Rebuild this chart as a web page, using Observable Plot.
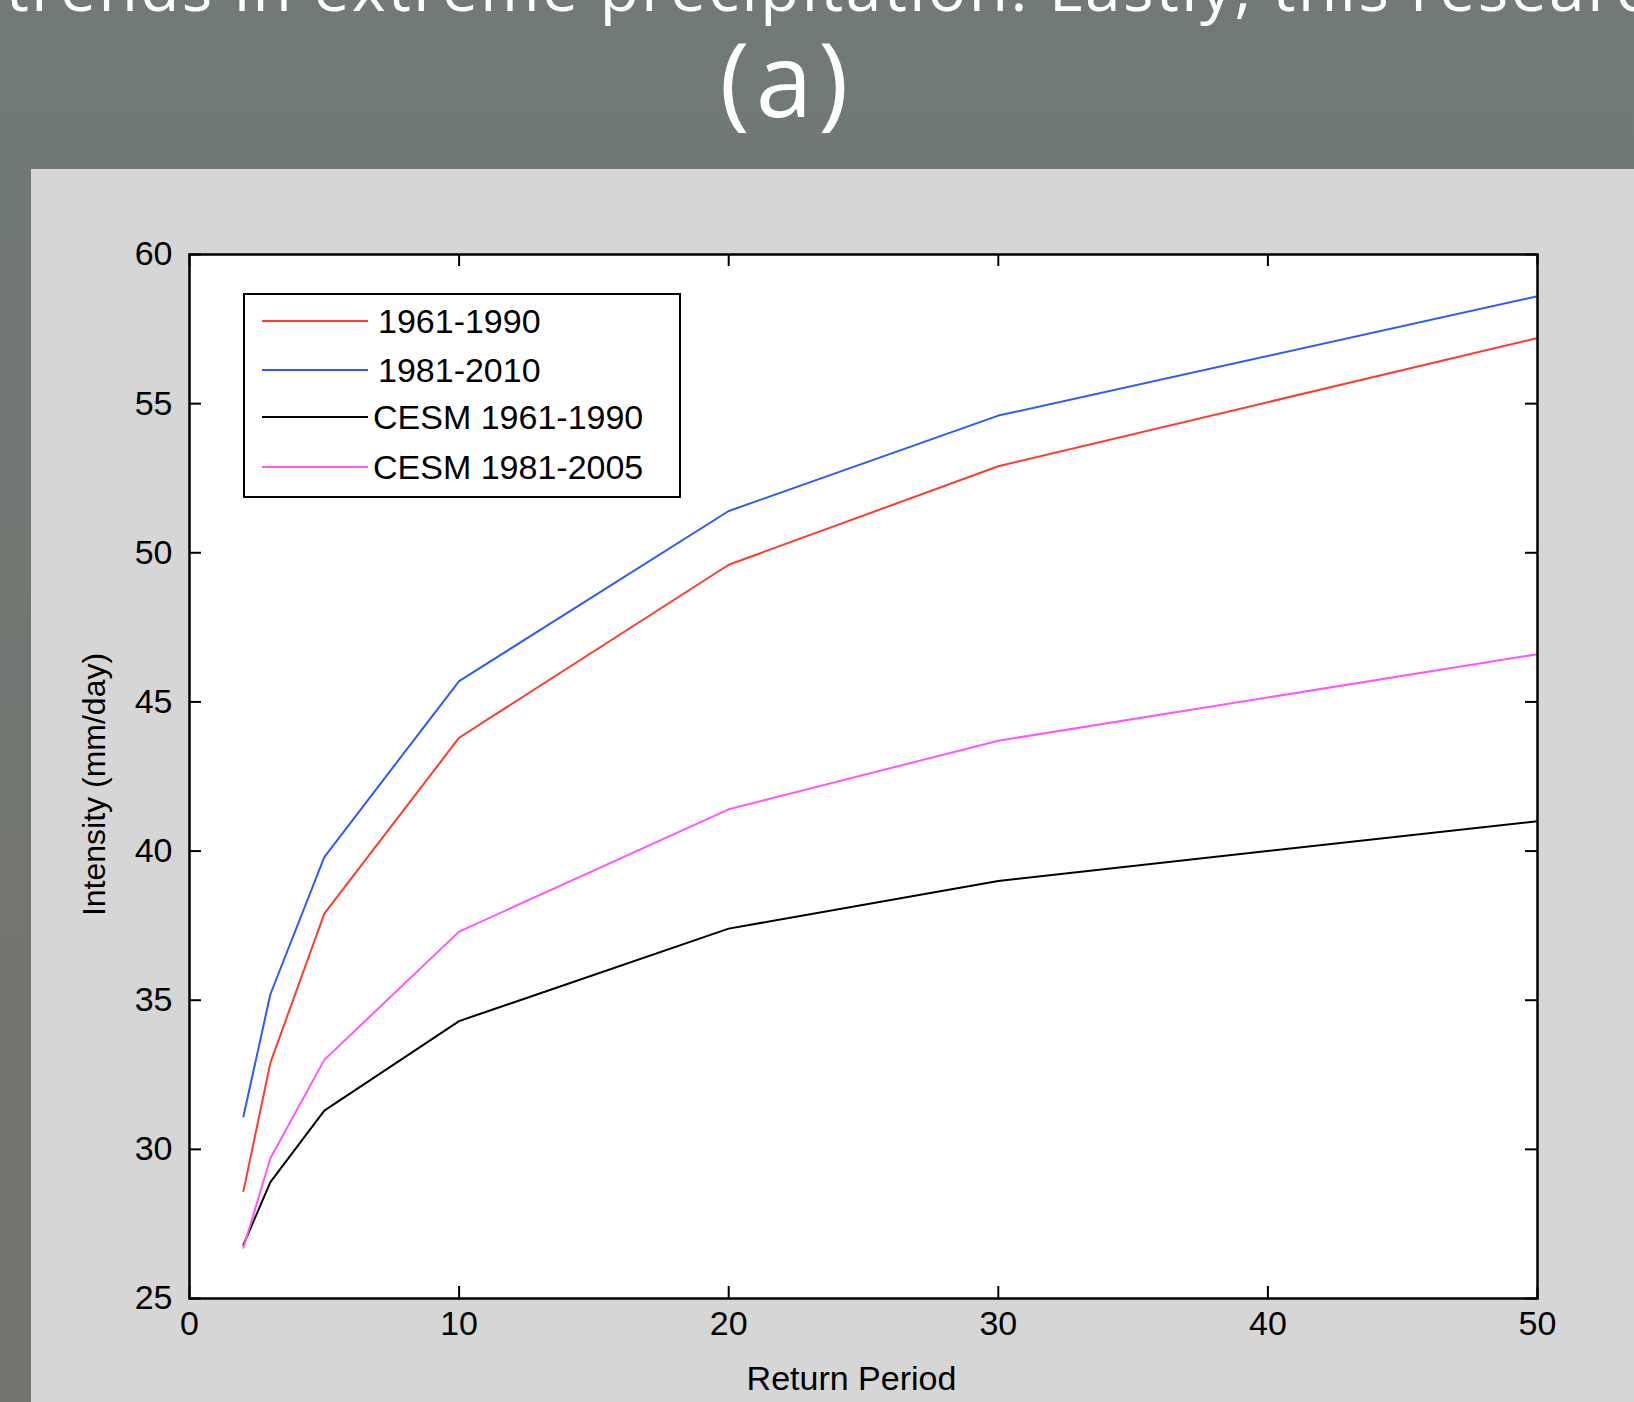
<!DOCTYPE html>
<html>
<head>
<meta charset="utf-8">
<script src="https://cdn.jsdelivr.net/npm/d3@7"></script>
<script src="https://cdn.jsdelivr.net/npm/@observablehq/plot@0.6"></script>
<style>
  html, body { margin: 0; padding: 0; }
  body { width: 1634px; height: 1402px; overflow: hidden; position: relative;
         background: linear-gradient(#717a76, #74736e); font-family: "Liberation Sans", Arial, sans-serif; }
  #topclip { position: absolute; left: 0; top: 0; width: 1634px; height: 26px; overflow: hidden; }
  #topline { position: absolute; left: 6px; top: -45px; white-space: nowrap; font-family: "Open Sans", sans-serif;
             font-size: 64px; line-height: 1; color: #fff; letter-spacing: 2.5px; }
  #title { position: absolute; left: 0; width: 1574px; top: 27px; text-align: center; font-family: "Open Sans", sans-serif;
           font-size: 102px; line-height: 1; color: #fff; letter-spacing: 6px; }
  #panel { position: absolute; left: 31px; top: 169px; width: 1603px; height: 1233px; background: #d6d6d6; }
  #chart { position: absolute; left: 31px; top: 169px; }
  #legend { position: absolute; left: 243px; top: 293px; width: 434px; height: 201px; background: #fff;
            border: 2px solid #000; }
  .row { position: absolute; left: 0; width: 434px; height: 34px; }
  .row svg { position: absolute; left: 17px; top: 0; }
  .row span { position: absolute; left: 130px; top: 0; font-size: 34px; line-height: 34px; color: #000; white-space: nowrap; }
</style>
</head>
<body>
<div id="topclip"><div id="topline">trends in extreme precipitation. Lastly, this research</div></div>
<div id="title">(a)</div>
<div id="panel"></div>
<div id="chart"></div>
<div id="legend"></div>
<script>
// ---- data ----
const returnPeriod = [2, 3, 5, 10, 20, 30, 50];
const obs19611990  = [28.6, 32.9, 37.9, 43.8, 49.6, 52.9, 57.2];
const obs19812010  = [31.1, 35.2, 39.8, 45.7, 51.4, 54.6, 58.6];
const cesm19611990 = [26.8, 28.9, 31.3, 34.3, 37.4, 39.0, 41.0];
const cesm19812005 = [26.7, 29.7, 33.0, 37.3, 41.4, 43.7, 46.6];

const seriesNames  = ["1961-1990", "1981-2010", "CESM 1961-1990", "CESM 1981-2005"];
const seriesValues = [obs19611990, obs19812010, cesm19611990, cesm19812005];
const seriesColors = ["#ff3b2b", "#2b5bff", "#000000", "#ff55ff"];

const xTicks = [0, 10, 20, 30, 40, 50];
const yTicks = [25, 30, 35, 40, 45, 50, 55, 60];

const rows = [];
seriesNames.forEach((name, i) => {
  returnPeriod.forEach((p, j) => rows.push({series: name, period: p, value: seriesValues[i][j]}));
});

const W = 1603, H = 1233;
const mL = 158, mR = 97, mT = 85, mB = 104;
const plotW = W - mL - mR, plotH = H - mT - mB;
const tickLen = 12;

const chart = Plot.plot({
  width: W, height: H,
  marginLeft: mL, marginRight: mR, marginTop: mT, marginBottom: mB,
  style: {background: "transparent", fontFamily: "'Liberation Sans', Arial, sans-serif", fontSize: "34px", color: "#000"},
  x: {domain: [0, 50]},
  y: {domain: [25, 60]},
  color: {domain: seriesNames, range: seriesColors},
  marks: [
    Plot.frame({fill: "#fff", stroke: null}),
    Plot.axisX({ticks: xTicks, tickSize: 0, tickPadding: 12, label: null, tickFormat: d => String(d)}),
    Plot.axisY({ticks: yTicks, tickSize: 0, tickPadding: 17, label: null, tickFormat: d => String(d)}),
    Plot.tickX(xTicks, {x: d => d, insetTop: plotH - tickLen, stroke: "#000", strokeWidth: 2}),
    Plot.tickX(xTicks, {x: d => d, insetBottom: plotH - tickLen, stroke: "#000", strokeWidth: 2}),
    Plot.tickY(yTicks, {y: d => d, insetRight: plotW - tickLen, stroke: "#000", strokeWidth: 2}),
    Plot.tickY(yTicks, {y: d => d, insetLeft: plotW - tickLen, stroke: "#000", strokeWidth: 2}),
    Plot.line(rows, {x: "period", y: "value", stroke: "series", z: "series", strokeWidth: 2}),
    Plot.frame({stroke: "#000", strokeWidth: 2.5}),
    Plot.text(["Return Period"], {text: d => d, frameAnchor: "bottom", lineAnchor: "top", textAnchor: "middle", dy: 67, dx: -12, fontSize: 34}),
    Plot.text(["Intensity (mm/day)"], {text: d => d, frameAnchor: "left", textAnchor: "middle", lineAnchor: "middle", rotate: -90, dx: -95, dy: 8, fontSize: 32})
  ]
});
document.getElementById("chart").appendChild(chart);

// ---- legend ----
const legend = d3.select("#legend");
const rowCenters = [26, 75, 122, 172];
seriesNames.forEach((name, i) => {
  const r = legend.append("div").attr("class", "row").style("top", (rowCenters[i] - 17) + "px");
  const s = r.append("svg").attr("width", 106).attr("height", 34);
  s.append("line").attr("x1", 0).attr("x2", 106).attr("y1", 17).attr("y2", 17)
    .attr("stroke", seriesColors[i]).attr("stroke-width", 2);
  r.append("span").style("left", (i < 2 ? 133 : 128) + "px").text(name);
});
</script>
</body>
</html>
